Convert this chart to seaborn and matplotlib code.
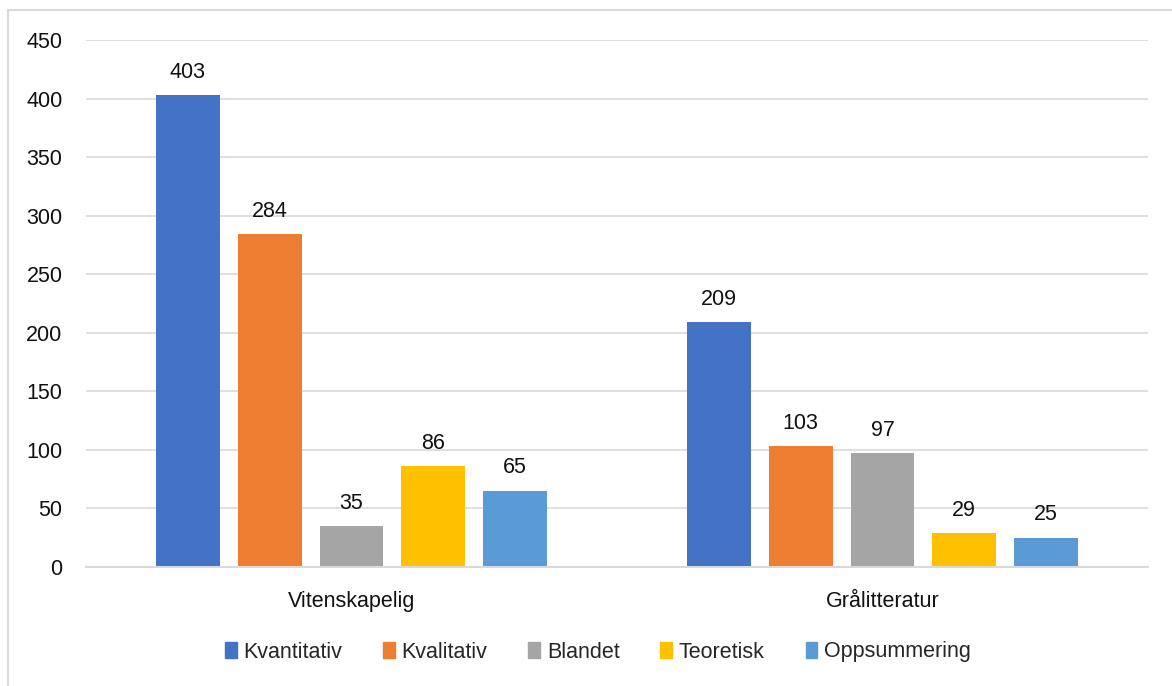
import matplotlib
matplotlib.use("Agg")
import matplotlib.pyplot as plt
import seaborn as sns
import pandas as pd
from matplotlib.lines import Line2D

# data
categories = ["Vitenskapelig", "Grålitteratur"]
series = ["Kvantitativ", "Kvalitativ", "Blandet", "Teoretisk", "Oppsummering"]
kvantitativ = [403, 209]
kvalitativ = [284, 103]
blandet = [35, 97]
teoretisk = [86, 29]
oppsummering = [65, 25]

colors = ["#4472C4", "#ED7D31", "#A5A5A5", "#FFC000", "#5B9BD5"]

rows = []
for name, vals in zip(series, [kvantitativ, kvalitativ, blandet, teoretisk, oppsummering]):
    for cat, v in zip(categories, vals):
        rows.append({"kategori": cat, "type": name, "antall": v})
df = pd.DataFrame(rows)

sns.set_style("white")
plt.rcParams["font.family"] = ["Liberation Sans", "DejaVu Sans"]
fs = 15.5

fig = plt.figure(figsize=(11.72, 6.86), dpi=100)
ax = fig.add_axes([86 / 1172, 1 - 567 / 686, (1148 - 86) / 1172, (567 - 40) / 686])

sns.barplot(data=df, x="kategori", y="antall", hue="type", order=categories,
            hue_order=series, palette=colors, width=0.77, gap=0.22,
            saturation=1, ax=ax, legend=False, linewidth=0)

for cont in ax.containers:
    ax.bar_label(cont, padding=9, fontsize=fs, color="#111111")

ax.set_ylim(0, 450)
ax.set_yticks(range(0, 451, 50))
ax.set_xlim(-0.5, 1.5)
ax.yaxis.grid(True, color="#D9D9D9", linewidth=1.2)
ax.set_axisbelow(True)
for s in ["top", "right", "left"]:
    ax.spines[s].set_visible(False)
ax.spines["bottom"].set_color("#D9D9D9")
ax.spines["bottom"].set_linewidth(1.5)
ax.tick_params(axis="y", length=0, pad=17, labelsize=fs, labelcolor="#111111")
ax.tick_params(axis="x", length=0, pad=17, labelsize=fs, labelcolor="#111111")
ax.set_xlabel("")
ax.set_ylabel("")

handles = [plt.Rectangle((0, 0), 1, 1, color=c) for c in colors]
fig.legend(handles, series, loc="center", bbox_to_anchor=(598 / 1172, 1 - 652 / 686),
           ncol=5, frameon=False, fontsize=fs, handlelength=0.55, handleheight=0.75,
           handletextpad=0.3, columnspacing=1.9)

# chart frame (left and top edges visible)
fig.add_artist(Line2D([8 / 1172, 8 / 1172], [0, 1 - 10 / 686], transform=fig.transFigure,
                      color="#D9D9D9", linewidth=1.5))
fig.add_artist(Line2D([8 / 1172, 1], [1 - 10 / 686, 1 - 10 / 686], transform=fig.transFigure,
                      color="#D9D9D9", linewidth=1.5))

fig.savefig("out.png", dpi=100)
